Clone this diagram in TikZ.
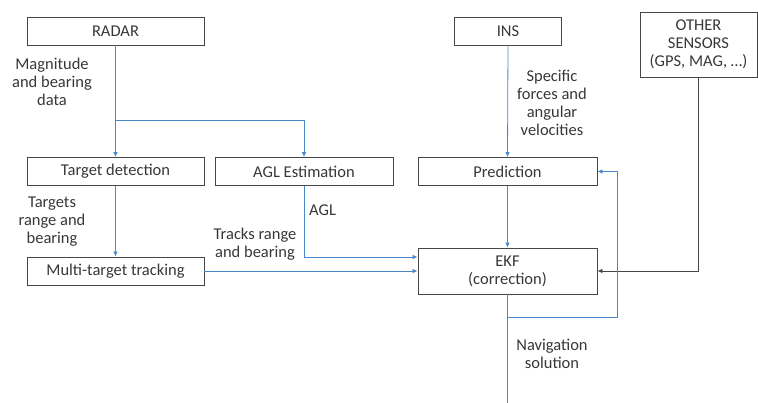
\documentclass[tikz,border=0pt]{standalone}
\usepackage{fontspec}
\setmainfont{Carlito}
\usetikzlibrary{arrows.meta}

\definecolor{lineblue}{RGB}{74,134,204}
\definecolor{boxgray}{RGB}{70,70,70}
\definecolor{txtgray}{RGB}{55,55,55}

\begin{document}
\begin{tikzpicture}[x=1pt,y=-1pt,
  box/.style={draw=boxgray,line width=0.9pt,minimum height=28pt,inner sep=0pt,
    text=txtgray,font=\fontsize{16.5}{18}\selectfont,align=center},
  lbl/.style={text=txtgray,font=\fontsize{16.5}{18}\selectfont,align=center,inner sep=0pt},
  flow/.style={draw=lineblue,line width=0.8pt,-{Latex[length=5pt,width=4.5pt]}},
  link/.style={draw=lineblue,line width=0.8pt},
  ]
\useasboundingbox (0,0) rectangle (758,403);
% blocks
\node[box,minimum width=177pt] (radar) at (115.5,31) {RADAR};
\node[box,minimum width=107pt] (ins) at (508,31) {INS};
\node[box,minimum width=117pt,minimum height=65pt] (other) at (698.5,44.5) {OTHER\\SENSORS\\(GPS, MAG, \dots)};
\node[box,minimum width=177pt] (detect) at (115.5,171.5) {Target detection};
\node[box,minimum width=178pt] (agl) at (304,171.5) {AGL Estimation};
\node[box,minimum width=179pt] (pred) at (507.5,171.5) {Prediction};
\node[box,minimum width=177pt] (mtt) at (115.5,271) {Multi-target tracking};
\node[box,minimum width=179pt,minimum height=46pt] (ekf) at (507.5,271) {EKF\\(correction)};
\coordinate (fork) at (115.5,120);
\coordinate (split) at (507.5,317);
\coordinate (loop) at (617,317);
\coordinate (out) at (507.5,403);
% connectors
\draw[link] (radar.south) -- (fork);
\draw[flow] (fork) -- (detect.north);
\draw[flow] (fork) -| (agl.north);
\draw[flow] (detect.south) -- (mtt.north);
\draw[flow] (agl.south) |- ([yshift=14pt]ekf.west);
\draw[flow] (mtt.east) -- (ekf.west);
\draw[flow] (ins.south) -- (pred.north);
\draw[flow] (pred.south) -- (ekf.north);
\draw[draw=boxgray,line width=0.8pt,-{Latex[length=5pt,width=4.5pt]}] (other.south) |- (ekf.east);
\draw[link] (ekf.south) -- (out);
\draw[flow] (split) -- (loop) |- (pred.east);
% labels
\node[lbl] (l1) at (52,82) {Magnitude\\and bearing\\data};
\node[lbl] (l2) at (52,222) {Targets\\range and\\bearing};
\node[lbl] (l3) at (255,244) {Tracks range\\and bearing};
\node[lbl,anchor=west] (l4) at (309,210) {AGL};
\node[lbl] (l5) at (552,103) {Specific\\forces and\\angular\\velocities};
\node[lbl] (l6) at (552,354) {Navigation\\solution};
\end{tikzpicture}
\end{document}
